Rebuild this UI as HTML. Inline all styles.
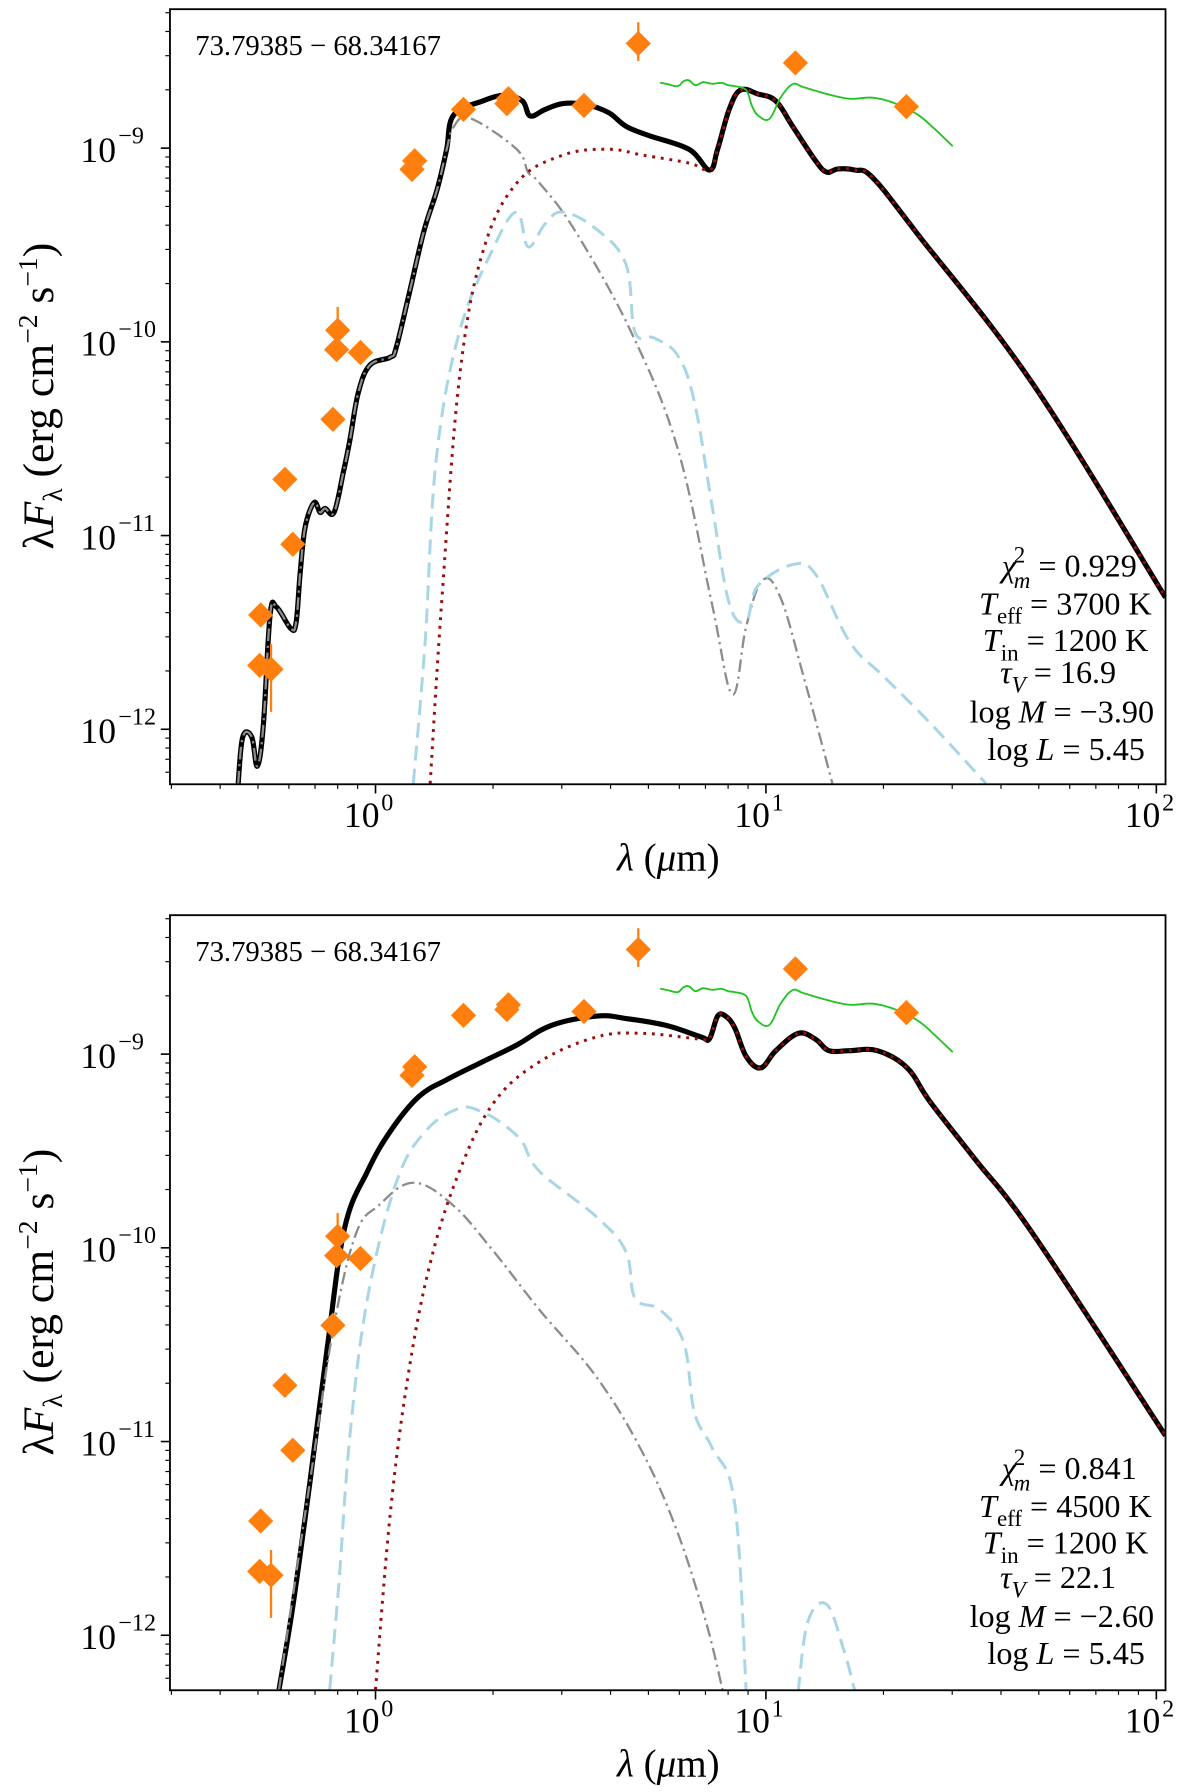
<!DOCTYPE html>
<html><head><meta charset="utf-8"><style>
html,body{margin:0;padding:0;background:#fff;}
svg{display:block;}
text{font-family:"Liberation Serif",serif;fill:#000;}
</style></head><body>
<svg id="fig" width="1200" height="1792" viewBox="0 0 1045 1560.6" xmlns="http://www.w3.org/2000/svg">
<defs>
<clipPath id="clipTop"><rect x="148" y="8" width="867" height="675"/></clipPath>
<clipPath id="clipBot"><rect x="148" y="797" width="867" height="675"/></clipPath>
</defs>
</svg>
<script>
// ---------- DATA ----------
const topTotalLam=[0.445,0.457,0.482,0.498,0.516,0.537,0.558,0.607,0.626,0.641,0.66,0.696,0.721,0.743,0.783,0.828,0.861,0.904,0.968,1.09,1.13,1.22,1.33,1.44,1.52,1.585,1.88,2.15,2.38,2.49,2.72,3.02,3.45,3.95,4.38,5.01,6.35,7.17,7.52,8.05,8.61,9.53,10.6,11.7,13.4,14.3,15.3,16.9,18.8,24.6,48.4,105.6];
const topTotalLogF=[-12.28,-12.04,-12.04,-12.19,-11.98,-11.41,-11.37,-11.48,-11.45,-11.20,-10.96,-10.83,-10.88,-10.86,-10.88,-10.67,-10.50,-10.26,-10.12,-10.08,-10.03,-9.75,-9.43,-9.21,-9.01,-8.83,-8.757,-8.727,-8.757,-8.834,-8.80,-8.77,-8.775,-8.816,-8.887,-8.935,-9.006,-9.113,-9.006,-8.80,-8.70,-8.72,-8.757,-8.887,-9.065,-9.124,-9.107,-9.113,-9.154,-9.45,-10.22,-11.32];
const topStarLam=[1.585,1.75,2.30,2.46,2.63,3.23,4.52,5.94,7.27,8.2,8.9,9.8,10.9,12.5,14.8];
const topStarLogF=[-8.89,-8.846,-9.006,-9.125,-9.18,-9.42,-9.95,-10.55,-11.35,-11.82,-11.47,-11.23,-11.32,-11.73,-12.28];
const topDustLam=[1.38,1.48,1.64,1.88,2.30,3.02,3.95,4.84,6.35,7.17];
const topDustLogF=[-12.28,-11.32,-10.19,-9.54,-9.18,-9.036,-9.006,-9.036,-9.077,-9.113];
const topShellLam=[1.25,1.34,1.43,1.64,2.01,2.30,2.46,2.72,3.02,3.69,4.38,4.62,5.17,5.94,6.56,7.27,8.05,8.9,9.53,11.7,13.4,16.4,20.1,26.4,36.6];
const topShellLogF=[-12.28,-11.55,-10.61,-9.95,-9.51,-9.33,-9.51,-9.39,-9.33,-9.42,-9.60,-9.95,-9.98,-10.07,-10.31,-10.84,-11.35,-11.44,-11.26,-11.15,-11.20,-11.55,-11.73,-11.97,-12.28];
const irsLam=[5.36,5.6,5.94,6.15,6.35,6.6,6.9,7.3,7.7,8.0,8.32,8.9,9.2,9.53,10.2,10.9,11.7,12.5,14.3,16.4,18.8,21.5,24.6,27,30.1];
const irsLogF=[-8.662,-8.67,-8.68,-8.655,-8.65,-8.675,-8.66,-8.668,-8.663,-8.675,-8.68,-8.70,-8.78,-8.83,-8.85,-8.74,-8.67,-8.686,-8.72,-8.745,-8.74,-8.77,-8.83,-8.9,-8.99];
const botTotalLam=[0.566,0.614,0.68,0.752,0.833,0.954,1.09,1.29,1.53,1.88,2.30,2.82,3.69,4.38,5.55,6.81,7.17,7.52,7.88,8.32,8.9,9.7,10.6,12.1,13.4,14.5,16.4,19.3,23,26.4,34.4,48.4,105.6];
const botTotalLogF=[-12.28,-11.85,-11.2,-10.52,-9.90,-9.605,-9.40,-9.22,-9.13,-9.04,-8.953,-8.852,-8.804,-8.816,-8.852,-8.911,-8.92,-8.804,-8.804,-8.864,-9.012,-9.071,-8.982,-8.893,-8.923,-8.982,-8.982,-8.982,-9.071,-9.249,-9.545,-9.93,-10.97];
const botStarLam=[0.566,0.68,0.778,0.89,1.02,1.25,1.58,2.01,2.63,3.69,4.84,5.94,7.0,7.76];
const botStarLogF=[-12.28,-11.2,-10.43,-9.93,-9.78,-9.664,-9.78,-10.02,-10.32,-10.67,-11.06,-11.47,-11.92,-12.29];
const botDustLam=[1.0,1.09,1.21,1.38,1.64,2.01,2.63,3.69,4.84,6.81];
const botDustLogF=[-12.28,-11.38,-10.67,-10.08,-9.605,-9.25,-9.04,-8.911,-8.893,-8.923];
const botShellLam=[0.763,0.805,0.86,0.954,1.13,1.34,1.64,1.88,2.15,2.38,2.63,3.69,4.38,4.62,5.36,6.16,6.56,7.27,8.32,8.9];
const botShellLogF=[-12.28,-11.74,-10.97,-10.26,-9.664,-9.40,-9.28,-9.30,-9.37,-9.456,-9.605,-9.842,-10.02,-10.26,-10.32,-10.49,-10.85,-11.03,-11.32,-12.29];
const botShell2Lam=[12.1,12.8,14.3,15.8,16.9];
const botShell2LogF=[-12.29,-11.93,-11.84,-12.07,-12.29];
const photLam=[0.508,0.505,0.54,0.586,0.614,0.778,0.80,0.795,0.915,1.24,1.26,1.68,2.19,2.17,3.42,4.71,11.9,22.9];
const photLogF=[-11.41,-11.67,-11.69,-10.71,-11.045,-10.40,-9.94,-10.04,-10.055,-9.11,-9.065,-8.80,-8.745,-8.77,-8.78,-8.46,-8.56,-8.786];
const photErrLo=[null,null,-11.91,null,null,null,-10.04,null,null,null,null,null,null,null,null,-8.55,null,null];
const photErrHi=[null,null,-11.56,null,null,null,-9.82,null,null,null,null,null,null,null,null,-8.35,null,null];
const xTickVals=[1,10,100];
const xTickExps=["0","1","2"];
const yTickVals=[-9,-10,-11,-12];
const yTickExps=["−9","−10","−11","−12"];
const topParams=["0.929","3700","1200","16.9","−3.90","5.45"];
const botParams=["0.841","4500","1200","22.1","−2.60","5.45"];

// ---------- AXES ----------
const NS="http://www.w3.org/2000/svg";
const svg=document.getElementById('fig');
const X0=148,X1=1015;
const xs=l=>327+340*Math.log10(l);
function mkY(off){return lf=>129+off-168.7*(lf+9);}
function el(tag,attrs,parent){const e=document.createElementNS(NS,tag);for(const k in attrs)e.setAttribute(k,attrs[k]);(parent||svg).appendChild(e);return e;}
function smoothPath(lams,lfs,ys){
  const P=lams.map((l,i)=>[xs(l),ys(lfs[i])]);
  let d='M'+P[0][0].toFixed(1)+','+P[0][1].toFixed(1);
  const t=0.18;
  for(let i=0;i<P.length-1;i++){
    const p0=P[Math.max(0,i-1)],p1=P[i],p2=P[i+1],p3=P[Math.min(P.length-1,i+2)];
    const c1=[p1[0]+(p2[0]-p0[0])*t,p1[1]+(p2[1]-p0[1])*t];
    const c2=[p2[0]-(p3[0]-p1[0])*t,p2[1]-(p3[1]-p1[1])*t];
    d+=' C'+c1.map(v=>v.toFixed(1)).join(',')+' '+c2.map(v=>v.toFixed(1)).join(',')+' '+p2.map(v=>v.toFixed(1)).join(',');
  }
  return d;
}

function panel(off,name,d){
  const ys=mkY(off);
  const top=8+off, bot=683+off;
  const g=el('g',{});
  
  
  const cg=el('g',{'clip-path':off?'url(#clipBot)':'url(#clipTop)'},g);
  const line=(lams,lfs,nm,st)=>{const p=el('path',Object.assign({d:smoothPath(lams,lfs,ys),fill:'none','stroke-linejoin':'round'},st),cg);
    
    };
  line(d.totL,d.totF,'total-model-line',{stroke:'#000','stroke-width':4.5});
  const sL=[],sF=[];
  if(d.starFromTotal){d.totL.forEach((l,i)=>{if(l<d.starL[0]){sL.push(l);sF.push(d.totF[i]);}});}
  line(sL.concat(d.starL),sF.concat(d.starF),'stellar-line',{stroke:'#8c8c8c','stroke-width':2,'stroke-dasharray':'11,4,2,4'});
  line(d.shellL,d.shellF,'shell-line',{stroke:'#a9d6e5','stroke-width':2.6,'stroke-dasharray':'13,7'});
  if(d.shell2L)line(d.shell2L,d.shell2F,'shell-line-2',{stroke:'#a9d6e5','stroke-width':2.6,'stroke-dasharray':'13,7'});
  const dL=d.dustL.slice(),dF=d.dustF.slice();
  d.totL.forEach((l,i)=>{if(l>d.dustL[d.dustL.length-1]){dL.push(l);dF.push(d.totF[i]);}});
  line(dL,dF,'dust-line',{stroke:'#9b0d0d','stroke-width':2.6,'stroke-dasharray':'2.5,5'});
  line(irsLam,irsLogF,'irs-spectrum',{stroke:'#22c322','stroke-width':1.6});
  photLam.forEach((l,i)=>{
    const x=xs(l),y=ys(photLogF[i]);
    if(photErrLo[i]!==null){const e=el('line',{x1:x,x2:x,y1:ys(photErrLo[i]),y2:ys(photErrHi[i]),stroke:'#ff7f0e','stroke-width':2},cg);
      
      }
    const p=el('polygon',{points:`${x},${y-11} ${x+11},${y} ${x},${y+11} ${x-11},${y}`,fill:'#ff7f0e'},cg);
    
    
  });
  const fr=el('rect',{x:X0,y:top,width:X1-X0,height:bot-top,fill:'none',stroke:'#000','stroke-width':1.6},g);
  
  
  for(let e=-1;e<=1;e++)for(let m=2;m<=9;m++){const l=m*Math.pow(10,e);if(l<0.3||l>100)continue;const x=xs(l);el('line',{x1:x,x2:x,y1:bot,y2:bot+4,stroke:'#000','stroke-width':1},g);}
  xTickVals.forEach((v,i)=>{const x=xs(v);el('line',{x1:x,x2:x,y1:bot,y2:bot+8,stroke:'#000','stroke-width':1.4},g);
    const t=el('text',{x:x-12,y:bot+37,'font-size':31,'text-anchor':'middle'},g);t.textContent='10';
    
    
    const s=el('text',{x:x+5,y:bot+23,'font-size':21},g);s.textContent=xTickExps[i];});
  for(let e=-13;e<=-9;e++)for(let m=2;m<=9;m++){const lf=Math.log10(m)+e;const y=ys(lf);if(y<top||y>bot)continue;el('line',{x1:X0-4,x2:X0,y1:y,y2:y,stroke:'#000','stroke-width':1},g);}
  yTickVals.forEach((v,i)=>{const y=ys(v);el('line',{x1:X0-8,x2:X0,y1:y,y2:y,stroke:'#000','stroke-width':1.4},g);
    const t=el('text',{x:X0-78,y:y+12,'font-size':31},g);t.textContent='10';
    
    
    const s=el('text',{x:X0-45,y:y-4,'font-size':21},g);s.textContent=yTickExps[i];});
  const xl=el('text',{x:582,y:bot+75,'font-size':34,'text-anchor':'middle'},g);
  xl.innerHTML='<tspan font-style="italic">λ</tspan> (<tspan font-style="italic">μ</tspan>m)';
  
  
  const yl=el('text',{transform:`translate(46,${345+off}) rotate(-90)`,'font-size':38,'text-anchor':'middle'},g);
  yl.innerHTML='λ<tspan font-style="italic">F</tspan><tspan font-size="24" dy="8">λ</tspan><tspan dy="-8"> (erg cm</tspan><tspan font-size="24" dy="-14">−2</tspan><tspan dy="14"> s</tspan><tspan font-size="24" dy="-14">−1</tspan><tspan dy="14">)</tspan>';
  
  
  const nm=el('text',{x:170,y:48+off,'font-size':25},g);nm.textContent='73.79385 − 68.34167';
  
  
  const P=d.params, ly=d.ly;
  const lines=[
    [990,`<tspan font-style="italic">χ</tspan><tspan font-size="20" dy="-12" dx="-2">2</tspan><tspan font-size="20" font-style="italic" dy="22" dx="-10">m</tspan><tspan dy="-10"> = ${P[0]}</tspan>`],
    [1003,`<tspan font-style="italic">T</tspan><tspan font-size="20" dy="8">eff</tspan><tspan dy="-8"> = ${P[1]} K</tspan>`],
    [1000,`<tspan font-style="italic">T</tspan><tspan font-size="20" dy="8">in</tspan><tspan dy="-8"> = ${P[2]} K</tspan>`],
    [972,`<tspan font-style="italic">τ</tspan><tspan font-size="20" font-style="italic" dy="8">V</tspan><tspan dy="-8"> = ${P[3]}</tspan>`],
    [1005,`log <tspan font-style="italic">M</tspan> = ${P[4]}`],
    [997,`log <tspan font-style="italic">L</tspan> = ${P[5]}`]];
  lines.forEach((ln,i)=>{const t=el('text',{x:ln[0],y:ly[i]+off,'font-size':28,'text-anchor':'end'},g);t.innerHTML=ln[1];
    
    });
}
panel(0,'top-panel',{totL:topTotalLam,totF:topTotalLogF,starL:topStarLam,starF:topStarLogF,starFromTotal:true,dustL:topDustLam,dustF:topDustLogF,shellL:topShellLam,shellF:topShellLogF,params:topParams,ly:[502,535,567,595,629,662]});
panel(789,'bottom-panel',{totL:botTotalLam,totF:botTotalLogF,starL:botStarLam,starF:botStarLogF,starFromTotal:false,dustL:botDustLam,dustF:botDustLogF,shellL:botShellLam,shellF:botShellLogF,shell2L:botShell2Lam,shell2F:botShell2LogF,params:botParams,ly:[499,532,564,594,628,660]});
</script>
</body></html>
